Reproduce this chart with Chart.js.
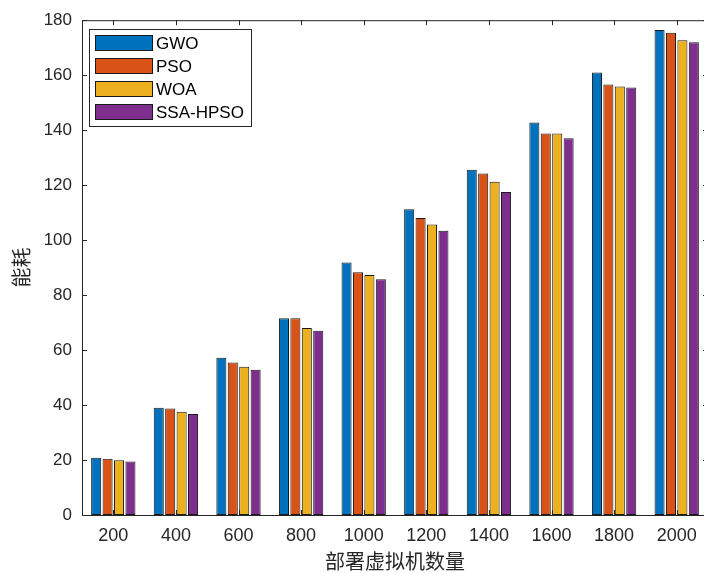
<!DOCTYPE html>
<html>
<head>
<meta charset="utf-8">
<script src="https://cdn.jsdelivr.net/npm/chart.js@4/dist/chart.umd.min.js"></script>
<style>
    body { margin: 0; background: #fff; overflow: hidden; }
    #wrap { width: 712px; height: 573px; }
</style>
</head>
<body>
<div id="wrap"><canvas id="energyChart"></canvas></div>
<script>
// Number of deployed virtual machines (x categories)
const vmCounts = ['200', '400', '600', '800', '1000', '1200', '1400', '1600', '1800', '2000'];

// Energy consumption per algorithm
const gwoValues = [20.8, 39.0, 57.2, 71.6, 91.9, 111.2, 125.6, 142.8, 161.0, 176.4];
const psoValues = [20.5, 38.7, 55.5, 71.6, 88.3, 108.0, 124.2, 138.8, 156.6, 175.4];
const woaValues = [19.9, 37.6, 53.9, 68.0, 87.3, 105.7, 121.2, 138.8, 155.9, 172.7];
const ssaHpsoValues = [19.5, 36.7, 52.8, 67.0, 85.8, 103.4, 117.5, 137.1, 155.5, 172.0];

// Y axis tick labels
const yTicks = [0, 20, 40, 60, 80, 100, 120, 140, 160, 180];

const axisColor = '#262626';

// MATLAB default colour order
const seriesColors = {
    gwo: '#0072BD',
    pso: '#D95319',
    woa: '#EDB120',
    ssa: '#7E2F8E'
};

// ================================
// Plugin: axis box, inward ticks and legend box (MATLAB look)
// ================================
const matlabAxesPlugin = {
    id: 'matlabAxes',
    afterDatasetsDraw(chart) {
        const { ctx, chartArea: area, scales } = chart;
        const tickLen = 5;
        ctx.save();
        ctx.strokeStyle = axisColor;
        ctx.lineWidth = 1;

        // box (right side falls just outside the window, as in the reference)
        ctx.strokeRect(area.left + 0.5, area.top + 0.5, area.right - area.left - 1, area.bottom - area.top);

        // x ticks at category centres, bottom and top, pointing inward
        ctx.beginPath();
        scales.x.ticks.forEach((t, i) => {
            const x = Math.round(scales.x.getPixelForTick(i)) + 0.5;
            ctx.moveTo(x, area.bottom);
            ctx.lineTo(x, area.bottom - tickLen);
            ctx.moveTo(x, area.top);
            ctx.lineTo(x, area.top + tickLen);
        });
        // y ticks, left and right, pointing inward
        yTicks.forEach(v => {
            const y = Math.round(scales.y.getPixelForValue(v)) + 0.5;
            ctx.moveTo(area.left, y);
            ctx.lineTo(area.left + tickLen, y);
            ctx.moveTo(area.right, y);
            ctx.lineTo(area.right - tickLen, y);
        });
        ctx.stroke();

        // legend box in the upper left corner
        const box = { x: 89, y: 29, w: 162, h: 97 };
        ctx.fillStyle = '#ffffff';
        ctx.fillRect(box.x, box.y, box.w, box.h);
        ctx.strokeStyle = axisColor;
        ctx.strokeRect(box.x + 0.5, box.y + 0.5, box.w, box.h);

        ctx.font = '17px "Liberation Sans", Arial, sans-serif';
        ctx.textBaseline = 'middle';
        chart.data.datasets.forEach((ds, i) => {
            const cy = 43 + i * 23;
            ctx.fillStyle = ds.backgroundColor;
            ctx.fillRect(95, cy - 8, 58, 16);
            ctx.strokeStyle = '#1a1a1a';
            ctx.strokeRect(95.5, cy - 7.5, 57, 15);
            ctx.fillStyle = '#000000';
            ctx.fillText(ds.label, 156, cy + 1);
        });
        ctx.restore();
    }
};

// ================================
// Grouped bar chart
// ================================
function makeDataset(label, values, color) {
    return {
        label: label,
        data: values,
        backgroundColor: color,
        borderColor: '#1a1a1a',
        borderWidth: 1,
        borderSkipped: false,
        categoryPercentage: 0.73,
        barPercentage: 0.88
    };
}

const ctx = document.getElementById('energyChart').getContext('2d');
new Chart(ctx, {
    type: 'bar',
    data: {
        labels: vmCounts,
        datasets: [
            makeDataset('GWO', gwoValues, seriesColors.gwo),
            makeDataset('PSO', psoValues, seriesColors.pso),
            makeDataset('WOA', woaValues, seriesColors.woa),
            makeDataset('SSA-HPSO', ssaHpsoValues, seriesColors.ssa)
        ]
    },
    options: {
        responsive: true,
        maintainAspectRatio: false,
        animation: false,
        layout: { padding: { top: 20, right: 4, left: 0, bottom: 0 } },
        plugins: {
            legend: { display: false },
            tooltip: { enabled: false }
        },
        scales: {
            x: {
                grid: { display: false, drawTicks: false },
                border: { display: false },
                ticks: {
                    color: axisColor,
                    padding: 10,
                    maxRotation: 0,
                    font: { family: '"Liberation Sans", Arial, sans-serif', size: 18 }
                },
                title: {
                    display: true,
                    text: '部署虚拟机数量',
                    color: axisColor,
                    padding: { top: 0, bottom: 0 },
                    font: { family: '"Noto Sans CJK SC", sans-serif', size: 20, lineHeight: 1.2 }
                },
                afterFit(scale) { scale.height = 58; }
            },
            y: {
                min: 0,
                max: 180,
                grid: { display: false, drawTicks: false },
                border: { display: false },
                ticks: {
                    color: axisColor,
                    padding: 10,
                    font: { family: '"Liberation Sans", Arial, sans-serif', size: 17 }
                },
                afterBuildTicks(scale) {
                    scale.ticks = yTicks.map(v => ({ value: v }));
                },
                title: {
                    display: true,
                    text: '能耗',
                    color: axisColor,
                    padding: { top: 9, bottom: 0 },
                    font: { family: '"Noto Sans CJK SC", sans-serif', size: 20, lineHeight: 1.2 }
                },
                afterFit(scale) { scale.width = 82; }
            }
        }
    },
    plugins: [matlabAxesPlugin]
});
</script>
</body>
</html>
